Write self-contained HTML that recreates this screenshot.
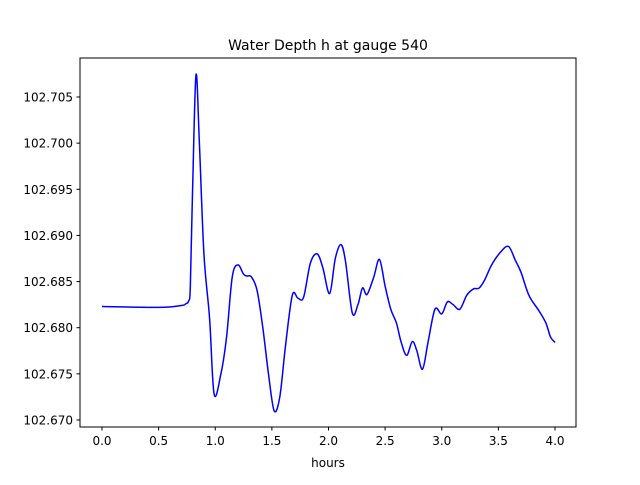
<!DOCTYPE html>
<html><head><meta charset="utf-8"><style>
body{margin:0;background:#fff;}
svg text{font-family:"DejaVu Sans","Liberation Sans",sans-serif;font-size:12px;fill:#000;}
</style></head><body>
<svg width="640" height="480">
<rect width="640" height="480" fill="#fff"/>
<g id="plot"></g>
<rect x="80" y="58" width="496" height="369" fill="none" stroke="#000" stroke-width="1"/>
<text x="328" y="50" text-anchor="middle" style="font-size:14px">Water Depth h at gauge 540</text>
<text x="328" y="467" text-anchor="middle">hours</text>
<g id="ticks"></g>
</svg>
<script>
const xTicks=[0,0.5,1,1.5,2,2.5,3,3.5,4];
const xTickLabels=["0.0","0.5","1.0","1.5","2.0","2.5","3.0","3.5","4.0"];
const yTicks=[102.670,102.675,102.680,102.685,102.690,102.695,102.700,102.705];
const yTickLabels=["102.670","102.675","102.680","102.685","102.690","102.695","102.700","102.705"];
const hours=[0,0.5,0.7,0.74,0.765,0.78,0.8,0.83,0.86,0.9,0.95,0.99,1.05,1.1,1.15,1.2,1.25,1.28,1.32,1.37,1.42,1.47,1.52,1.57,1.62,1.68,1.73,1.78,1.84,1.9,1.95,2.01,2.06,2.11,2.15,2.21,2.26,2.3,2.34,2.4,2.45,2.5,2.55,2.6,2.64,2.69,2.74,2.78,2.83,2.88,2.94,3.0,3.05,3.1,3.16,3.22,3.28,3.33,3.38,3.44,3.52,3.59,3.65,3.7,3.77,3.86,3.92,3.96,4.0];
const depth=[102.6823,102.6822,102.6824,102.6826,102.6829,102.6845,102.695,102.7074,102.700,102.688,102.681,102.6728,102.675,102.679,102.6855,102.6868,102.6858,102.6856,102.6855,102.684,102.680,102.675,102.671,102.6725,102.678,102.6835,102.6832,102.6833,102.687,102.688,102.6865,102.6837,102.6875,102.689,102.6872,102.6816,102.6825,102.6843,102.6836,102.6855,102.6874,102.6845,102.682,102.6805,102.6785,102.677,102.6785,102.6775,102.6755,102.6785,102.682,102.6815,102.6828,102.6825,102.682,102.6835,102.6842,102.6843,102.6852,102.6868,102.6882,102.6888,102.6873,102.686,102.6835,102.6818,102.6805,102.679,102.6784];
const X=t=>102+t*113.25;
const Y=v=>97+(102.705-v)/0.005*46.14;
const NS="http://www.w3.org/2000/svg";
const plot=document.getElementById('plot'),ticks=document.getElementById('ticks');
const P=hours.map((t,i)=>[X(t),Y(depth[i])]);
let d=`M${P[0][0]},${P[0][1]}`;
for(let i=0;i<P.length-1;i++){
 const p0=P[Math.max(0,i-1)],p1=P[i],p2=P[i+1],p3=P[Math.min(P.length-1,i+2)];
 const k=1/6;
 d+=` C${p1[0]+(p2[0]-p0[0])*k},${p1[1]+(p2[1]-p0[1])*k} ${p2[0]-(p3[0]-p1[0])*k},${p2[1]-(p3[1]-p1[1])*k} ${p2[0]},${p2[1]}`;
}
const path=document.createElementNS(NS,'path');
path.setAttribute('d',d);path.setAttribute('fill','none');path.setAttribute('stroke','#0000ff');path.setAttribute('stroke-width','1.5');


plot.appendChild(path);
xTicks.forEach((t,i)=>{
 const l=document.createElementNS(NS,'line');
 l.setAttribute('x1',X(t));l.setAttribute('x2',X(t));l.setAttribute('y1',427);l.setAttribute('y2',430.5);l.setAttribute('stroke','#000');
 
 
 ticks.appendChild(l);
 const tx=document.createElementNS(NS,'text');
 tx.setAttribute('x',X(t));tx.setAttribute('y',445);tx.setAttribute('text-anchor','middle');tx.textContent=xTickLabels[i];
 
 
 ticks.appendChild(tx);
});
yTicks.forEach((v,i)=>{
 const l=document.createElementNS(NS,'line');
 l.setAttribute('x1',76.5);l.setAttribute('x2',80);l.setAttribute('y1',Y(v));l.setAttribute('y2',Y(v));l.setAttribute('stroke','#000');
 
 
 ticks.appendChild(l);
 const tx=document.createElementNS(NS,'text');
 tx.setAttribute('x',73);tx.setAttribute('y',Y(v)+4.5);tx.setAttribute('text-anchor','end');tx.textContent=yTickLabels[i];
 
 
 ticks.appendChild(tx);
});
</script>
</body></html>
